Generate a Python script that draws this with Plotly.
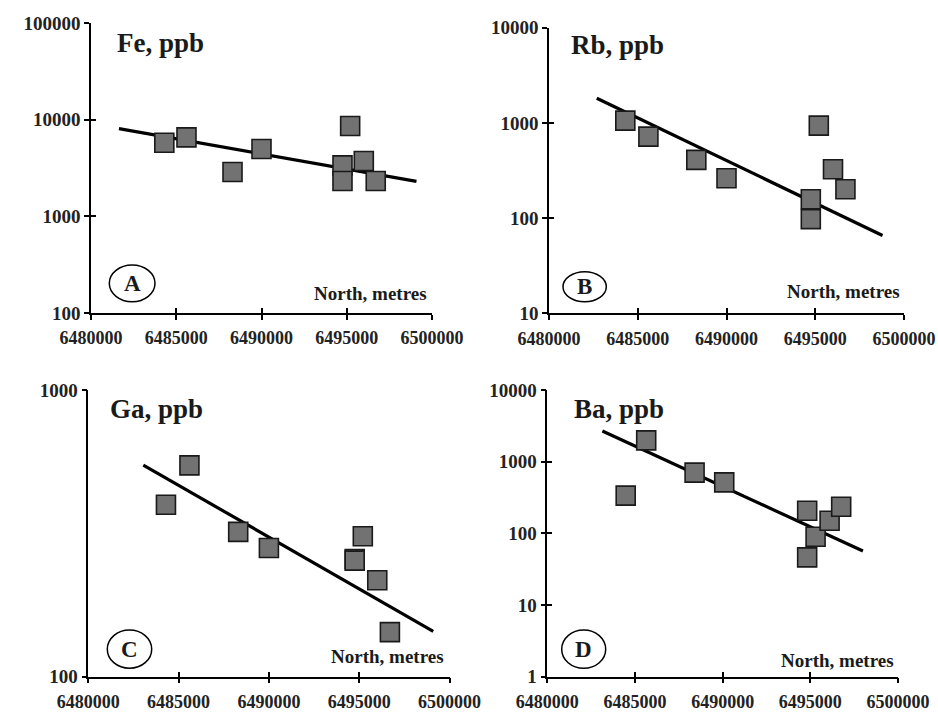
import plotly.graph_objects as go

# ---- data ----
north = [6484300, 6485600, 6488300, 6490000, 6495200, 6494750, 6494750, 6496000, 6496700]

fe = [5780, 6560, 2880, 4980, 8610, 3370, 2320, 3740, 2320]
rb = [1057, 718, 409, 262, 937, 158, 97.5, 326, 201]
ga = [398, 546, 320, 281, 309, 257, 254, 217, 143]
ba = [336, 1985, 703, 515, 89.8, 207, 46.2, 150, 235]
ba_north = [6484470, 6485640, 6488400, 6490090, 6495300, 6494820, 6494820, 6496100, 6496760]

fe_fit_x = [6481640, 6499090]
fe_fit_y = [8070, 2300]
rb_fit_x = [6482690, 6498790]
rb_fit_y = [1814, 65.7]
ga_fit_x = [6483045, 6499100]
ga_fit_y = [547, 144]
ba_fit_x = [6483140, 6498000]
ba_fit_y = [2680, 56.6]

x_ticks = [6480000, 6485000, 6490000, 6495000, 6500000]
x_tick_text = ["6480000", "6485000", "6490000", "6495000", "6500000"]

titles = ["Fe, ppb", "Rb, ppb", "Ga, ppb", "Ba, ppb"]
panel_letters = ["A", "B", "C", "D"]
y_ticks = [
    [100, 1000, 10000, 100000],
    [10, 100, 1000, 10000],
    [100, 1000],
    [1, 10, 100, 1000, 10000],
]
y_tick_text = [[str(v) for v in t] for t in y_ticks]
y_ranges = [[2, 5], [1, 4], [2, 3], [0, 4]]

# ---- layout geometry (pixels in the 938x713 picture) ----
W, H = 938, 713
# left, right, top, bottom of each plot area
boxes = [
    (91, 432, 23, 313),
    (549, 904, 27.7, 313.3),
    (88.3, 449.5, 390, 676.7),
    (547.3, 898, 390, 676.7),
]
title_pos = [(0.070, 0.931), (0.056, 0.939), (0.055, 0.933), (0.071, 0.933)]
north_pos = [(0.991, 0.068), (0.995, 0.076), (0.990, 0.070), (0.995, 0.058)]
circles = [
    (109.3, 155, 265, 301.7),
    (563, 606.3, 271.7, 301.7),
    (107.3, 151.7, 630, 668.3),
    (561.7, 605.7, 630, 668.3),
]

series_x = [north, north, north, ba_north]
series_y = [fe, rb, ga, ba]
fit_x = [fe_fit_x, rb_fit_x, ga_fit_x, ba_fit_x]
fit_y = [fe_fit_y, rb_fit_y, ga_fit_y, ba_fit_y]

FONT = "Liberation Serif"
fig = go.Figure()
layout = dict(
    width=W, height=H, margin=dict(l=0, r=0, t=0, b=0, autoexpand=False),
    paper_bgcolor="white", plot_bgcolor="rgba(0,0,0,0)", showlegend=False,
)
annotations = []
shapes = []

for i in range(4):
    k = i + 1
    ko = i + 5  # overlay axes for inside half of crossing ticks
    xa = "x" if k == 1 else f"x{k}"
    ya = "y" if k == 1 else f"y{k}"
    l, r, t, b = boxes[i]
    xdom = [l / W, r / W]
    ydom = [1 - b / H, 1 - t / H]

    common_x = dict(domain=xdom, range=[x_ticks[0], x_ticks[-1]], tickvals=x_ticks,
                    showgrid=False, zeroline=False, fixedrange=True, automargin=False)
    common_y = dict(domain=ydom, type="log", range=y_ranges[i], tickvals=y_ticks[i],
                    showgrid=False, zeroline=False, fixedrange=True, automargin=False)

    layout[f"xaxis{k}"] = dict(**common_x, anchor=ya, ticktext=x_tick_text,
                               showline=True, linecolor="black", linewidth=1.5,
                               ticks="outside", ticklen=5, tickwidth=1.5, tickcolor="black",
                               ticklabelstandoff=3,
                               tickfont=dict(family=FONT, size=18, color="#222", weight="bold"))
    layout[f"yaxis{k}"] = dict(**common_y, anchor=xa, ticktext=y_tick_text[i],
                               showline=True, linecolor="black", linewidth=1.5,
                               ticks="outside", ticklen=5, tickwidth=1.5, tickcolor="black",
                               tickfont=dict(family=FONT, size=19, color="#222", weight="bold"))
    layout[f"xaxis{ko}"] = dict(**common_x, anchor=f"y{ko}", overlaying=xa,
                                showline=False, showticklabels=False,
                                ticks="inside", ticklen=5, tickwidth=1.5, tickcolor="black")
    layout[f"yaxis{ko}"] = dict(**common_y, anchor=f"x{ko}", overlaying=ya,
                                showline=False, showticklabels=False,
                                ticks="inside", ticklen=5, tickwidth=1.5, tickcolor="black")

    # invisible trace so the overlay axes are drawn
    fig.add_trace(go.Scatter(x=[x_ticks[0]], y=[y_ticks[i][0]], mode="markers",
                             marker=dict(opacity=0), xaxis=f"x{ko}", yaxis=f"y{ko}",
                             hoverinfo="skip"))
    # fitted line
    fig.add_trace(go.Scatter(x=fit_x[i], y=fit_y[i], mode="lines",
                             line=dict(color="black", width=3.2),
                             xaxis=xa, yaxis=ya))
    # samples
    fig.add_trace(go.Scatter(x=series_x[i], y=series_y[i], mode="markers",
                             marker=dict(symbol="square", size=19, color="#727272",
                                         line=dict(color="#1a1a1a", width=1.6)),
                             xaxis=xa, yaxis=ya))

    dref = "" if k == 1 else str(k)
    annotations.append(dict(text=f"<b>{titles[i]}</b>", x=title_pos[i][0], y=title_pos[i][1],
                            xref=f"x{dref} domain", yref=f"y{dref} domain",
                            xanchor="left", yanchor="middle", showarrow=False,
                            font=dict(family=FONT, size=27, color="#1a1a1a")))
    annotations.append(dict(text="<b>North, metres</b>", x=north_pos[i][0], y=north_pos[i][1],
                            xref=f"x{dref} domain", yref=f"y{dref} domain",
                            xanchor="right", yanchor="middle", showarrow=False,
                            font=dict(family=FONT, size=19, color="#1a1a1a")))
    cx0, cx1, cy0, cy1 = circles[i]
    shapes.append(dict(type="circle", xref="paper", yref="paper",
                       x0=cx0 / W, x1=cx1 / W, y0=1 - cy1 / H, y1=1 - cy0 / H,
                       line=dict(color="black", width=1.5)))
    annotations.append(dict(text=f"<b>{panel_letters[i]}</b>", xref="paper", yref="paper",
                            x=(cx0 + cx1) / 2 / W, y=1 - (cy0 + cy1) / 2 / H,
                            xanchor="center", yanchor="middle", showarrow=False,
                            font=dict(family=FONT, size=23, color="#1a1a1a")))

layout["annotations"] = annotations
layout["shapes"] = shapes
fig.update_layout(**layout)
fig.write_html(
    "out.html",
    config={"displayModeBar": False},
    post_script="document.body.style.margin='0px';document.body.style.overflow='hidden';",
)
